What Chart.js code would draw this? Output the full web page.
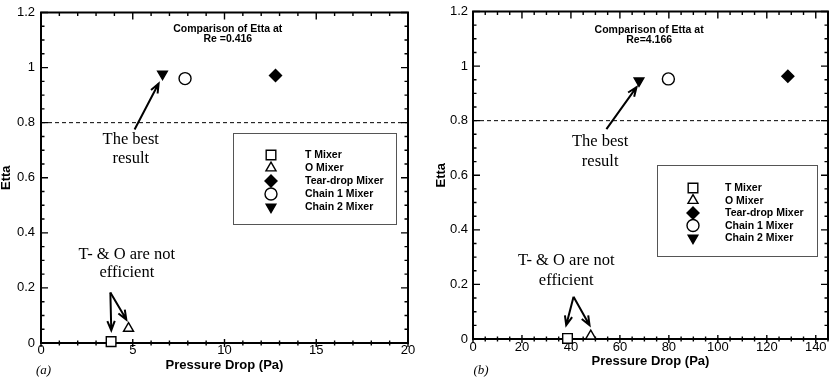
<!DOCTYPE html>
<html>
<head>
<meta charset="utf-8">
<script src="https://cdn.jsdelivr.net/npm/chart.js@4.4.1/dist/chart.umd.min.js"></script>
<style>
  html, body { margin: 0; padding: 0; background: #fff; }
  #wrap { position: relative; width: 840px; height: 377px; }
  canvas { position: absolute; top: 0; }
  #panelA { left: 0; }
  #panelB { left: 420px; }
</style>
</head>
<body>
<div id="wrap">
  <canvas id="panelA" width="420" height="377"></canvas>
  <canvas id="panelB" width="420" height="377"></canvas>
</div>
<script>
// data
const mixers = ['T Mixer', 'O Mixer', 'Tear-drop Mixer', 'Chain 1 Mixer', 'Chain 2 Mixer'];
const dropA = [3.82, 4.77, 12.78, 7.85, 6.62];      // Pressure Drop (Pa), Re = 0.416
const ettaA = [0.005, 0.053, 0.971, 0.960, 0.977];
const dropB = [38.6, 48.1, 128.6, 79.8, 67.8];      // Pressure Drop (Pa), Re = 4.166
const ettaB = [0.002, 0.011, 0.963, 0.953, 0.946];
const ettaTicks = [0, 0.2, 0.4, 0.6, 0.8, 1, 1.2];
const dropTicksA = [0, 5, 10, 15, 20];
const dropTicksB = [0, 20, 40, 60, 80, 100, 120, 140];
const threshold = 0.8;

// marker look for each mixer (same order as mixers)
const markers = [
  { style: 'rect', radius: 6.8, rotation: 0, fill: '#fff' },
  { style: 'triangle', radius: 5.8, rotation: 0, fill: '#fff' },
  { style: 'rectRot', radius: 6, rotation: 0, fill: '#000' },
  { style: 'circle', radius: 6, rotation: 0, fill: '#fff' },
  { style: 'triangle', radius: 5.6, rotation: 180, fill: '#000' }
];

function arrow(ctx, x1, y1, x2, y2) {
  const ang = Math.atan2(y2 - y1, x2 - x1);
  const h = 10;
  ctx.beginPath();
  ctx.moveTo(x1, y1);
  ctx.lineTo(x2, y2);
  ctx.moveTo(x2 - h * Math.cos(ang - 0.38), y2 - h * Math.sin(ang - 0.38));
  ctx.lineTo(x2, y2);
  ctx.lineTo(x2 - h * Math.cos(ang + 0.38), y2 - h * Math.sin(ang + 0.38));
  ctx.stroke();
}

function stepsOf(scale, step) {
  const out = [];
  const n = Math.round((scale.max - scale.min) / step);
  for (let i = 0; i <= n; i++) out.push(scale.min + i * step);
  return out;
}

// frame + inward ticks like the original plot
const framePlugin = {
  id: 'frame',
  beforeDatasetsDraw(chart, args, o) {
    const { ctx, chartArea: a, scales: { x, y } } = chart;
    ctx.save();
    ctx.strokeStyle = '#000';
    ctx.lineWidth = 1.4;
    ctx.beginPath();
    stepsOf(x, o.minorX).forEach(v => {
      const px = x.getPixelForValue(v);
      ctx.moveTo(px, a.bottom + 2.5); ctx.lineTo(px, a.bottom - 2.5);
      ctx.moveTo(px, a.top); ctx.lineTo(px, a.top + 3.5);
    });
    x.ticks.forEach(t => {
      const px = x.getPixelForValue(t.value);
      ctx.moveTo(px, a.bottom + 4); ctx.lineTo(px, a.bottom - 4);
      ctx.moveTo(px, a.top); ctx.lineTo(px, a.top + 7);
    });
    stepsOf(y, o.minorY).forEach(v => {
      const py = y.getPixelForValue(v);
      ctx.moveTo(a.left, py); ctx.lineTo(a.left + 3.5, py);
      ctx.moveTo(a.right, py); ctx.lineTo(a.right - 3.5, py);
    });
    y.ticks.forEach(t => {
      const py = y.getPixelForValue(t.value);
      ctx.moveTo(a.left, py); ctx.lineTo(a.left + 7, py);
      ctx.moveTo(a.right, py); ctx.lineTo(a.right - 7, py);
    });
    ctx.stroke();
    ctx.lineWidth = 2;
    ctx.strokeRect(a.left, a.top, a.right - a.left, a.bottom - a.top);
    ctx.restore();
  },
  afterDatasetsDraw(chart, args, o) {
    const { ctx, scales: { x, y } } = chart;
    const X = v => x.getPixelForValue(v);
    const Y = v => y.getPixelForValue(v);
    ctx.save();
    ctx.fillStyle = '#000';
    ctx.strokeStyle = '#000';
    ctx.textAlign = 'center';
    ctx.textBaseline = 'middle';

    // heading inside plot
    ctx.font = 'bold 10.5px "Liberation Sans", Arial, sans-serif';
    o.heading.text.forEach((t, i) => ctx.fillText(t, X(o.heading.x), Y(o.heading.y[i])));

    // notes + arrows
    ctx.font = '16.5px "Liberation Serif", "Times New Roman", serif';
    o.notes.forEach(n => {
      n.text.forEach((t, i) => ctx.fillText(t, X(n.x), Y(n.y[i])));
      ctx.lineWidth = 2;
      n.arrows.forEach(r => arrow(ctx, X(r[0]), Y(r[1]), X(r[2]), Y(r[3])));
    });

    // panel tag
    ctx.font = 'italic 13px "Liberation Serif", "Times New Roman", serif';
    ctx.fillText(o.tag.text, o.tag.x, o.tag.y);

    // legend box
    const L = o.legend;
    ctx.lineWidth = 1;
    ctx.strokeStyle = '#555';
    ctx.strokeRect(L.x + 0.5, L.y + 0.5, L.w, L.h);
    ctx.strokeStyle = '#000';
    ctx.textAlign = 'left';
    ctx.font = 'bold 10.5px "Liberation Sans", Arial, sans-serif';
    mixers.forEach((name, i) => {
      const m = markers[i];
      const ry = L.y + L.first + i * L.gap;
      ctx.fillStyle = m.fill;
      ctx.lineWidth = 1.4;
      Chart.helpers.drawPoint(ctx, { pointStyle: m.style, radius: m.radius, rotation: m.rotation, borderWidth: 1.4 }, L.x + L.mark, ry);
      ctx.fillStyle = '#000';
      ctx.fillText(name, L.x + L.text, ry + 0.5);
    });
    ctx.restore();
  }
};

const tickFont = { family: '"Liberation Sans", Arial', size: 13, lineHeight: 1 };
const titleFont = { family: '"Liberation Sans", Arial', size: 13, weight: 'bold', lineHeight: 1 };

function makePanel(id, drops, ettas, xMax, xTicks, cfg) {
  const sets = mixers.map((name, i) => ({
    label: name,
    data: [{ x: drops[i], y: ettas[i] }],
    pointStyle: markers[i].style,
    pointRadius: markers[i].radius,
    pointRotation: markers[i].rotation,
    backgroundColor: markers[i].fill,
    borderColor: '#000',
    borderWidth: 1.4,
    showLine: false,
    clip: false
  }));
  sets.unshift({
    label: 'limit',
    data: [{ x: 0, y: threshold }, { x: xMax, y: threshold }],
    showLine: true,
    borderColor: '#000',
    borderWidth: 1,
    borderDash: [4, 3],
    pointRadius: 0
  });

  return new Chart(document.getElementById(id), {
    type: 'scatter',
    data: { datasets: sets },
    plugins: [framePlugin],
    options: {
      responsive: false,
      animation: false,
      devicePixelRatio: 1,
      layout: { padding: { left: 0, right: 12, top: 7, bottom: 0 } },
      plugins: {
        legend: { display: false },
        tooltip: { enabled: false },
        frame: cfg.frame
      },
      scales: {
        x: {
          type: 'linear', min: 0, max: xMax,
          grid: { display: false, drawTicks: false },
          border: { display: false },
          afterBuildTicks: s => { s.ticks = xTicks.map(v => ({ value: v })); },
          afterFit: s => { s.height = cfg.xH; },
          ticks: { color: '#000', padding: cfg.xPad, font: tickFont, callback: v => String(v) },
          title: { display: true, text: 'Pressure Drop (Pa)', color: '#000',
                   padding: { top: 0, bottom: cfg.xTitlePad }, font: titleFont }
        },
        y: {
          type: 'linear', min: 0, max: 1.2,
          grid: { display: false, drawTicks: false },
          border: { display: false },
          afterBuildTicks: s => { s.ticks = ettaTicks.map(v => ({ value: v })); },
          afterFit: s => { s.width = cfg.yW; },
          ticks: { color: '#000', padding: cfg.yPad, font: tickFont,
                   callback: v => String(Math.round(v * 10) / 10) },
          title: { display: true, text: 'Etta', color: '#000',
                   padding: { top: cfg.yTitlePad, bottom: 0 }, font: titleFont }
        }
      }
    }
  });
}

makePanel('panelA', dropA, ettaA, 20, dropTicksA, {
  yW: 41, xH: 34, yPad: 6, xPad: 1, xTitlePad: 5.5, yTitlePad: 0,
  frame: {
    minorX: 1, minorY: 0.05,
    heading: { text: ['Comparison of Etta at', 'Re =0.416'], x: 10.18, y: [1.139, 1.105] },
    notes: [
      { text: ['The best', 'result'], x: 4.89, y: [0.740, 0.669], arrows: [[5.10, 0.775, 6.41, 0.942]] },
      { text: ['T- & O are not', 'efficient'], x: 4.68, y: [0.3225, 0.2547],
        arrows: [[3.78, 0.183, 3.83, 0.046], [3.78, 0.183, 4.65, 0.085]] }
    ],
    tag: { text: '(a)', x: 43.5, y: 371 },
    legend: { x: 233, y: 133, w: 163, h: 91, first: 22, gap: 13, mark: 38, text: 72 }
  }
});

makePanel('panelB', dropB, ettaB, 145, dropTicksB, {
  yW: 53, xH: 38, yPad: 5, xPad: 2, xTitlePad: 9.5, yTitlePad: 14.5,
  frame: {
    minorX: 5, minorY: 0.05,
    heading: { text: ['Comparison of Etta at', 'Re=4.166'], x: 71.95, y: [1.131, 1.094] },
    notes: [
      { text: ['The best', 'result'], x: 51.95, y: [0.7245, 0.65], arrows: [[54.5, 0.769, 66.8, 0.923]] },
      { text: ['T- & O are not', 'efficient'], x: 38.07, y: [0.2877, 0.2155],
        arrows: [[41.07, 0.155, 38.07, 0.0505], [41.07, 0.155, 47.6, 0.0505]] }
    ],
    tag: { text: '(b)', x: 61, y: 371 },
    legend: { x: 237, y: 165, w: 160, h: 91, first: 23, gap: 12.5, mark: 36, text: 68 }
  }
});
</script>
</body>
</html>
